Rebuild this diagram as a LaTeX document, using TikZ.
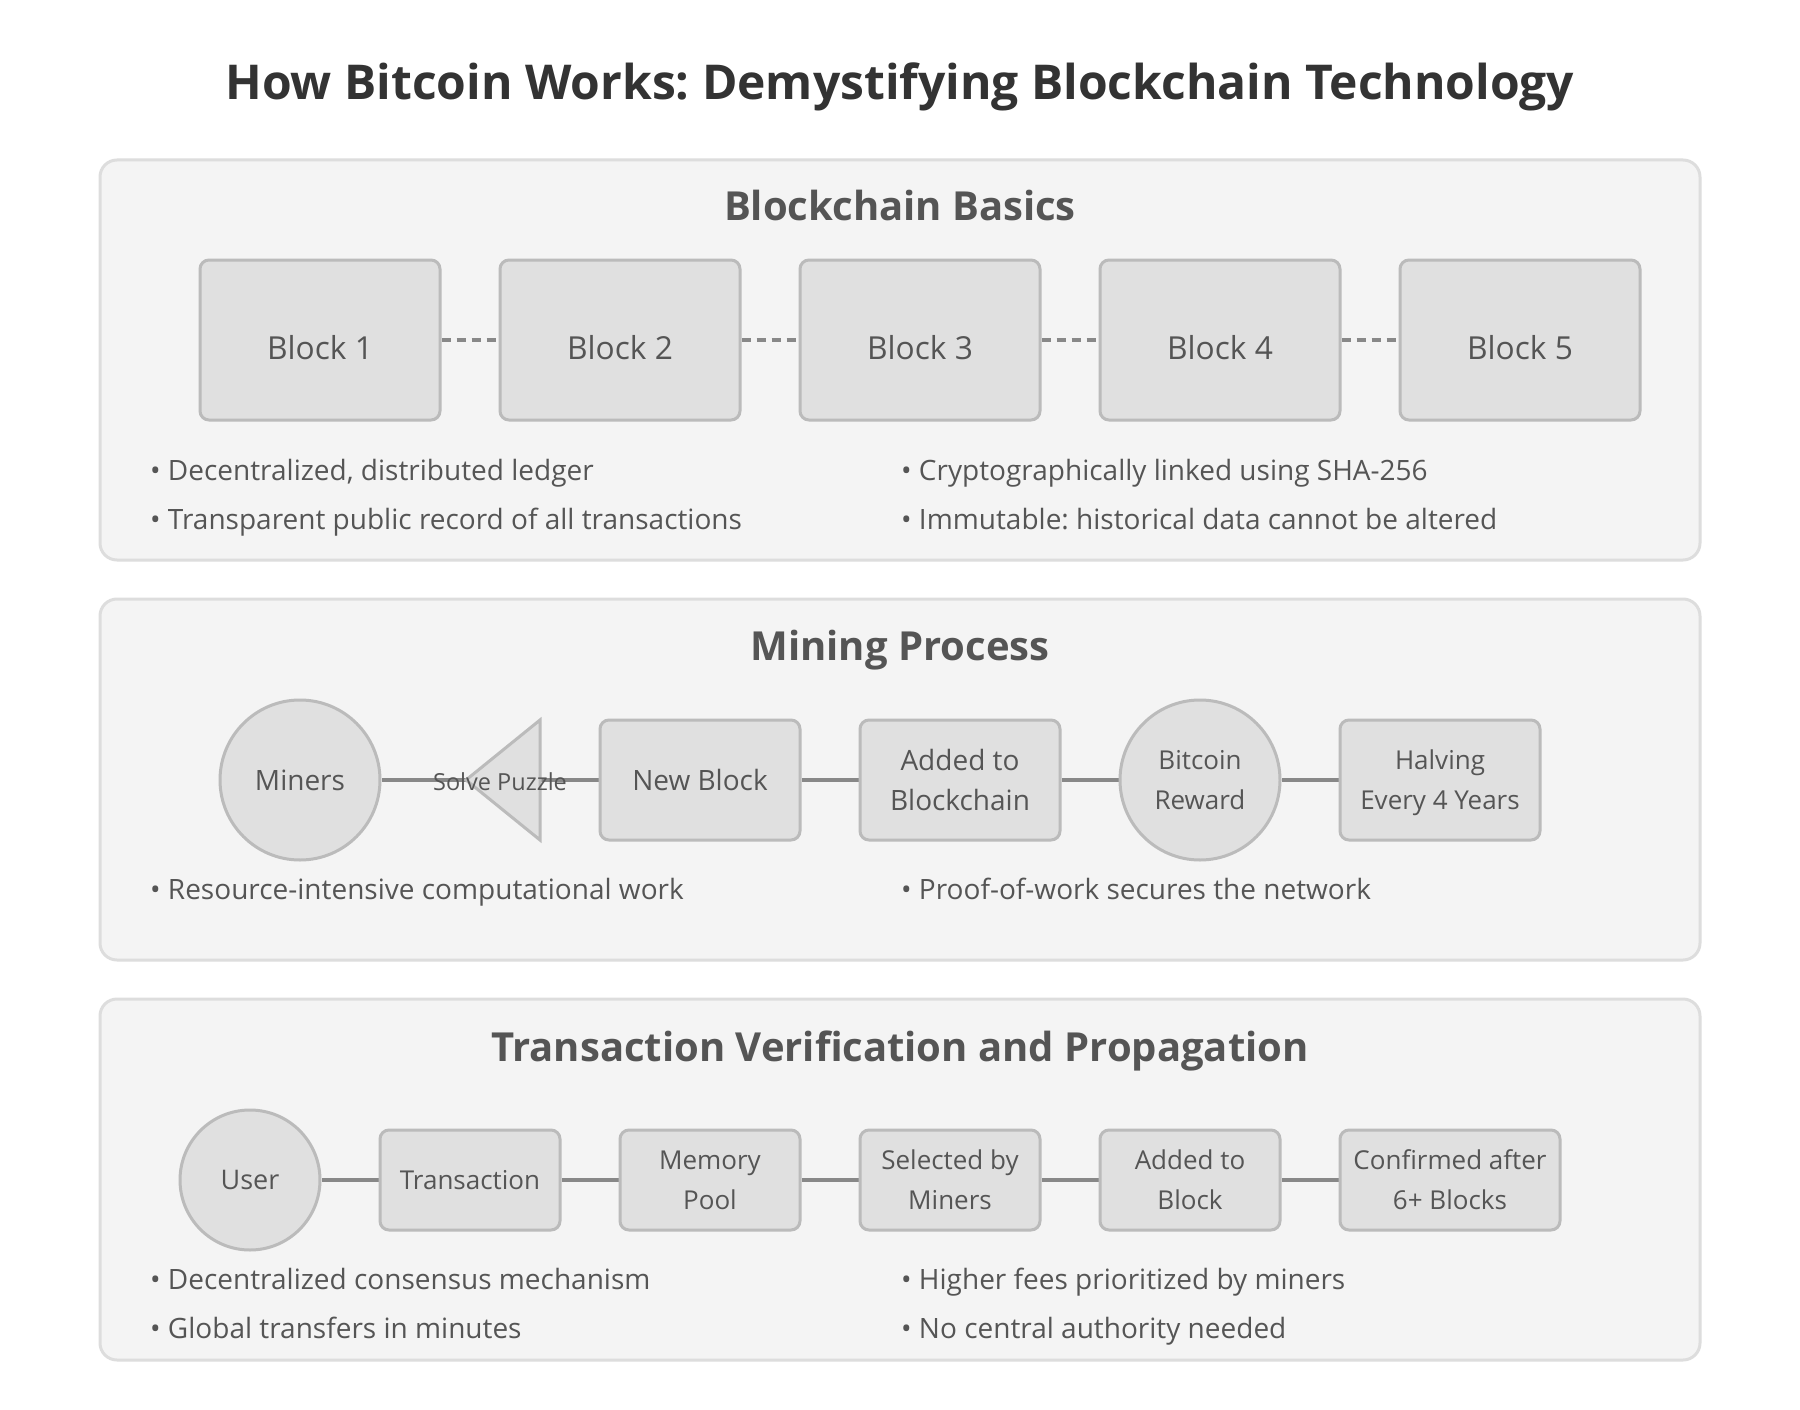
\documentclass[tikz,border=0pt]{standalone}
\usepackage{fontspec}
\setmainfont{Open Sans}
\frenchspacing
\definecolor{panelfill}{HTML}{F4F4F4}
\definecolor{panelline}{HTML}{DDDDDD}
\definecolor{nodefill}{HTML}{E0E0E0}
\definecolor{nodeline}{HTML}{BBBBBB}
\definecolor{edgecol}{HTML}{888888}
\definecolor{titlecol}{HTML}{333333}
\definecolor{headcol}{HTML}{555555}
\definecolor{textcol}{HTML}{555555}
\pgfdeclarelayer{bg}
\pgfdeclarelayer{edges}
\pgfsetlayers{bg,edges,main}
\tikzset{
  panel/.style={draw=panelline, line width=3pt, fill=panelfill, rounded corners=17pt, inner sep=0pt, minimum width=1600pt},
  box/.style={draw=nodeline, line width=3pt, fill=nodefill, rounded corners=9pt, inner sep=0pt, text=textcol, align=center},
  blockbox/.style={box, minimum width=240pt, minimum height=160pt},
  mbox/.style={box, minimum width=200pt, minimum height=120pt, font=\fontsize{28}{40}\selectfont},
  tbox/.style={box, minimum width=180pt, minimum height=100pt, font=\fontsize{26}{40}\selectfont},
  circ/.style={circle, draw=nodeline, line width=3pt, fill=nodefill, inner sep=0pt, text=textcol, align=center},
  blocklabel/.style={text=textcol, inner sep=0pt, font=\fontsize{31.7}{37}\selectfont},
  conn/.style={draw=edgecol, line width=4pt},
  dashconn/.style={draw=edgecol, line width=4pt, dash pattern=on 9pt off 6pt},
  bullet/.style={anchor=base west, text=textcol, inner sep=0pt, font=\fontsize{28}{32}\selectfont},
  heading/.style={anchor=base, text=headcol, inner sep=0pt, font=\bfseries\fontsize{40}{48}\selectfont},
}
\begin{document}
\begin{tikzpicture}[x=1pt,y=-1pt]
\begin{pgfonlayer}{bg}
\fill[white] (0,0) rectangle (1800,1410);
\end{pgfonlayer}
\useasboundingbox (0,0) rectangle (1800,1410);

% title
\node[anchor=base, text=titlecol, inner sep=0pt, font=\bfseries\fontsize{48}{56}\selectfont] (title) at (900,100) {How Bitcoin Works: Demystifying Blockchain Technology};

% panels
\begin{pgfonlayer}{bg}
\node[panel, minimum height=400pt] (p1) at (900,360) {};
\node[panel, minimum height=361pt] (p2) at (900,779.5) {};
\node[panel, minimum height=361pt] (p3) at (900,1179.5) {};
\end{pgfonlayer}

% ---------- Blockchain Basics ----------
\node[heading] (h1) at (900,220) {Blockchain Basics};
\foreach \i/\x in {1/320,2/620,3/920,4/1220,5/1520}{
  \node[blockbox] (b\i) at (\x,340) {};
  \node[blocklabel] (bl\i) at (\x,348) {Block \i};
}
\begin{pgfonlayer}{edges}
\draw[dashconn] (b1) -- (b2);
\draw[dashconn] (b2) -- (b3);
\draw[dashconn] (b3) -- (b4);
\draw[dashconn] (b4) -- (b5);
\end{pgfonlayer}
\node[bullet] (t11) at (150,480) {• Decentralized, distributed ledger};
\node[bullet] (t12) at (150,529) {• Transparent public record of all transactions};
\node[bullet] (t13) at (901,480) {• Cryptographically linked using SHA-256};
\node[bullet] (t14) at (901,529) {• Immutable: historical data cannot be altered};

% ---------- Mining Process ----------
\node[heading] (h2) at (900,660) {Mining Process};
\node[circ, minimum size=160pt, font=\fontsize{28}{40}\selectfont] (miners) at (300,780) {Miners};
\coordinate (tria) at (466,780);
\coordinate (trib) at (540,780);
\draw[draw=nodeline, line width=3pt, fill=nodefill, line join=miter] (466,780) -- (540,720) -- (540,840) -- cycle;
\node[text=textcol, inner sep=0pt, font=\fontsize{23.5}{28}\selectfont] (solve) at (500,782) {Solve Puzzle};
\node[mbox] (newblock) at (700,780) {New Block};
\node[mbox] (added) at (960,780) {Added to\\Blockchain};
\node[circ, minimum size=160pt, font=\fontsize{26}{40}\selectfont] (reward) at (1200,780) {Bitcoin\\Reward};
\node[mbox, font=\fontsize{26}{40}\selectfont, text depth=0pt] (halving) at (1440,780) {Halving\\Every 4 Years};
\begin{pgfonlayer}{edges}
\draw[conn] (miners) -- (tria);
\draw[conn] (trib) -- (newblock);
\draw[conn] (newblock) -- (added);
\draw[conn] (added) -- (reward);
\draw[conn] (reward) -- (halving);
\end{pgfonlayer}
\node[bullet] (t21) at (150,899) {• Resource-intensive computational work};
\node[bullet] (t22) at (901,899) {• Proof-of-work secures the network};

% ---------- Transaction Verification ----------
\node[heading] (h3) at (900,1061) {Transaction Verification and Propagation};
\node[circ, minimum size=140pt, font=\fontsize{27}{40}\selectfont] (user) at (250,1180) {User};
\node[tbox] (tx) at (470,1180) {Transaction};
\node[tbox] (mem) at (710,1180) {Memory\\Pool};
\node[tbox] (sel) at (950,1180) {Selected by\\Miners};
\node[tbox] (addb) at (1190,1180) {Added to\\Block};
\node[tbox, minimum width=220pt] (conf) at (1450,1180) {Confirmed after\\6+ Blocks};
\begin{pgfonlayer}{edges}
\draw[conn] (user) -- (tx);
\draw[conn] (tx) -- (mem);
\draw[conn] (mem) -- (sel);
\draw[conn] (sel) -- (addb);
\draw[conn] (addb) -- (conf);
\end{pgfonlayer}
\node[bullet] (t31) at (150,1289) {• Decentralized consensus mechanism};
\node[bullet] (t32) at (150,1338) {• Global transfers in minutes};
\node[bullet] (t33) at (901,1289) {• Higher fees prioritized by miners};
\node[bullet] (t34) at (901,1338) {• No central authority needed};
\end{tikzpicture}
\end{document}
